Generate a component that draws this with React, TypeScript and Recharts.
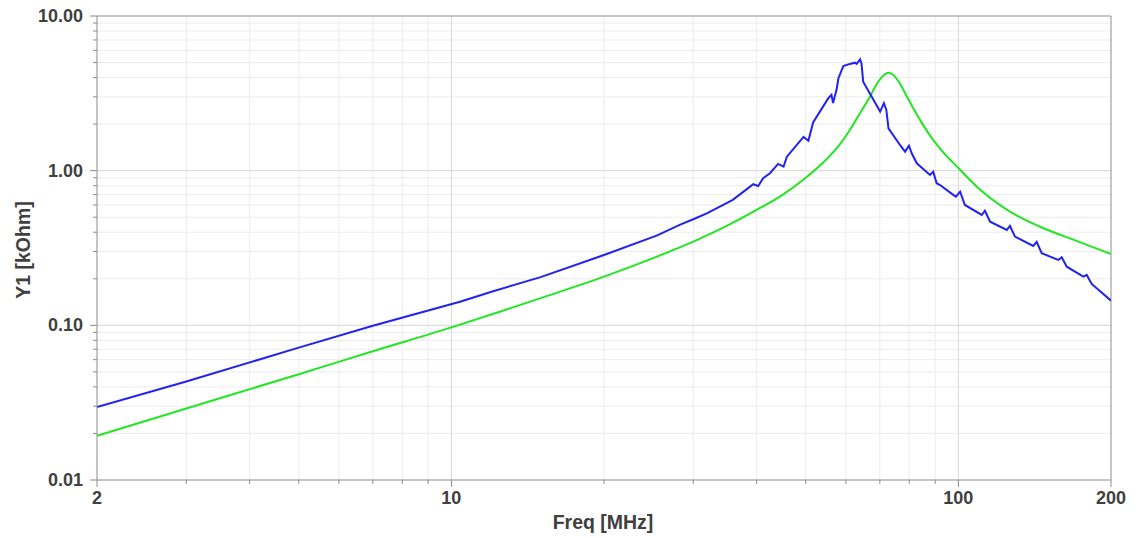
import React from "react";
import { LineChart, Line, XAxis, YAxis, ReferenceLine, Label } from "recharts";

// measured curve (blue)
const measFreq = [2, 3, 5, 7, 10.4, 12, 15, 20, 25.4, 28.2, 30, 31.9, 35.9, 39.4, 40.3, 41.2, 42.5, 44.1, 45.2, 45.9, 49.5, 50.6, 51.7, 55.4, 56.2, 56.6, 57.5, 58.0, 59.3, 61.1, 62.5, 63.0, 64.0, 64.4, 64.9, 66.9, 70.1, 71.3, 72.1, 72.8, 76.7, 78.5, 79.9, 80.9, 82.8, 87.9, 89.2, 90.6, 92.0, 97.7, 98.9, 100.8, 103, 111.2, 112.8, 115.5, 124.6, 126.4, 129.3, 140.5, 142.7, 146, 157.4, 159.9, 163.6, 176.4, 179.1, 183.2, 200];
const measY1 = [0.0296, 0.0433, 0.0718, 0.0995, 0.142, 0.165, 0.205, 0.285, 0.38, 0.446, 0.485, 0.53, 0.647, 0.817, 0.796, 0.893, 0.962, 1.105, 1.062, 1.232, 1.652, 1.563, 2.05, 2.94, 3.09, 2.74, 3.33, 3.96, 4.75, 4.9, 4.99, 4.9, 5.25, 4.94, 3.76, 3.16, 2.41, 2.73, 2.47, 1.88, 1.466, 1.327, 1.451, 1.296, 1.116, 0.938, 0.985, 0.829, 0.808, 0.697, 0.679, 0.732, 0.6, 0.517, 0.551, 0.468, 0.414, 0.439, 0.3745, 0.326, 0.346, 0.2924, 0.2646, 0.2755, 0.2395, 0.2065, 0.2118, 0.1852, 0.1444];

// model curve (green)
const modelFreq = [2, 3, 5, 7, 10, 12.5, 15, 20, 25, 30, 35, 40, 45, 50, 55, 58, 61, 64, 67, 69, 71, 72.8, 74.5, 76.5, 79, 82, 85, 88, 92, 100, 110, 125, 145, 170, 200];
const modelY1 = [0.0193, 0.029, 0.0483, 0.068, 0.097, 0.123, 0.15, 0.2065, 0.272, 0.3475, 0.441, 0.557, 0.698, 0.9, 1.19, 1.44, 1.82, 2.36, 3.03, 3.62, 4.1, 4.3, 4.14, 3.7, 3.05, 2.44, 2.0, 1.68, 1.39, 1.04, 0.76, 0.556, 0.434, 0.354, 0.289];

const xTicks = [2, 3, 4, 5, 6, 7, 8, 9, 10, 20, 30, 40, 50, 60, 70, 80, 90, 100, 200];
const xMajor = [2, 10, 100, 200];
const yTicks = [0.01, 0.02, 0.03, 0.04, 0.05, 0.06, 0.07, 0.08, 0.09, 0.1, 0.2, 0.3, 0.4, 0.5, 0.6, 0.7, 0.8, 0.9, 1, 2, 3, 4, 5, 6, 7, 8, 9, 10];
const yMajor = [0.01, 0.1, 1, 10];

const xGridMinor = [3, 4, 5, 6, 7, 8, 9, 20, 30, 40, 50, 60, 70, 80, 90];
const xGridMajor = [10, 100];
const yGridMinor = [0.02, 0.03, 0.04, 0.05, 0.06, 0.07, 0.08, 0.09, 0.2, 0.3, 0.4, 0.5, 0.6, 0.7, 0.8, 0.9, 2, 3, 4, 5, 6, 7, 8, 9];
const yGridMajor = [0.1, 1];

const measData = measFreq.map((f, i) => ({ f, v: measY1[i] }));
const modelData = modelFreq.map((f, i) => ({ f, v: modelY1[i] }));

const font = "'Liberation Sans', Arial, sans-serif";
const textColor = "#404040";
const axisColor = "#8c8c8c";

const XTick = (props: any) => {
  const { x, y, payload } = props;
  const major = xMajor.includes(payload.value);
  return (
    <g>
      <line x1={x} x2={x} y1={y} y2={y + (major ? 7 : 4)} stroke={axisColor} />
      {major && (
        <text x={x} y={y + 24} textAnchor="middle" fontFamily={font} fontWeight="bold" fontSize={18} fill={textColor}>
          {payload.value}
        </text>
      )}
    </g>
  );
};

const YTick = (props: any) => {
  const { x, y, payload } = props;
  const major = yMajor.includes(payload.value);
  return (
    <g>
      <line x1={x - (major ? 7 : 4)} x2={x} y1={y} y2={y} stroke={axisColor} />
      {major && (
        <text x={x - 14} y={y + 6} textAnchor="end" fontFamily={font} fontWeight="bold" fontSize={18} fill={textColor}>
          {payload.value.toFixed(2)}
        </text>
      )}
    </g>
  );
};

export default function App() {
  return (
    <div style={{ position: "absolute", left: 0, top: 0, background: "#fff" }}>
      <LineChart width={1139} height={538} margin={{ top: 16, right: 28, bottom: 0, left: 8 }}>
        <XAxis
          dataKey="f"
          type="number"
          scale="log"
          domain={[2, 200]}
          allowDataOverflow
          ticks={xTicks}
          interval={0}
          tick={<XTick />}
          tickSize={0}
          tickMargin={0}
          tickLine={false}
          axisLine={{ stroke: axisColor }}
          height={58}
        >
          <Label
            content={() => (
              <text x={603} y={529} textAnchor="middle" fontFamily={font} fontWeight="bold" fontSize={19.5} fill={textColor}>
                Freq [MHz]
              </text>
            )}
          />
        </XAxis>
        <YAxis
          type="number"
          scale="log"
          domain={[0.01, 10]}
          allowDataOverflow
          ticks={yTicks}
          interval={0}
          tick={<YTick />}
          tickSize={0}
          tickMargin={0}
          tickLine={false}
          axisLine={{ stroke: axisColor }}
          width={89}
        >
          <Label
            content={() => (
              <text
                x={23}
                y={250}
                transform="rotate(-90, 23, 250)"
                textAnchor="middle"
                dominantBaseline="central"
                fontFamily={font}
                fontWeight="bold"
                fontSize={19.5}
                fill={textColor}
              >
                Y1 [kOhm]
              </text>
            )}
          />
        </YAxis>
        {yGridMinor.map((v) => (
          <ReferenceLine key={"ym" + v} y={v} stroke="#ececec" />
        ))}
        {xGridMinor.map((v) => (
          <ReferenceLine key={"xm" + v} x={v} stroke="#ececec" />
        ))}
        {yGridMajor.map((v) => (
          <ReferenceLine key={"yM" + v} y={v} stroke="#d6d6d6" />
        ))}
        {xGridMajor.map((v) => (
          <ReferenceLine key={"xM" + v} x={v} stroke="#d6d6d6" />
        ))}
        <ReferenceLine y={10} stroke={axisColor} />
        <ReferenceLine x={200} stroke={axisColor} />
        <Line data={modelData} dataKey="v" type="monotone" stroke="#22e622" strokeWidth={2} dot={false} isAnimationActive={false} />
        <Line data={measData} dataKey="v" type="linear" stroke="#2222f0" strokeWidth={2} dot={false} isAnimationActive={false} />
      </LineChart>
    </div>
  );
}
